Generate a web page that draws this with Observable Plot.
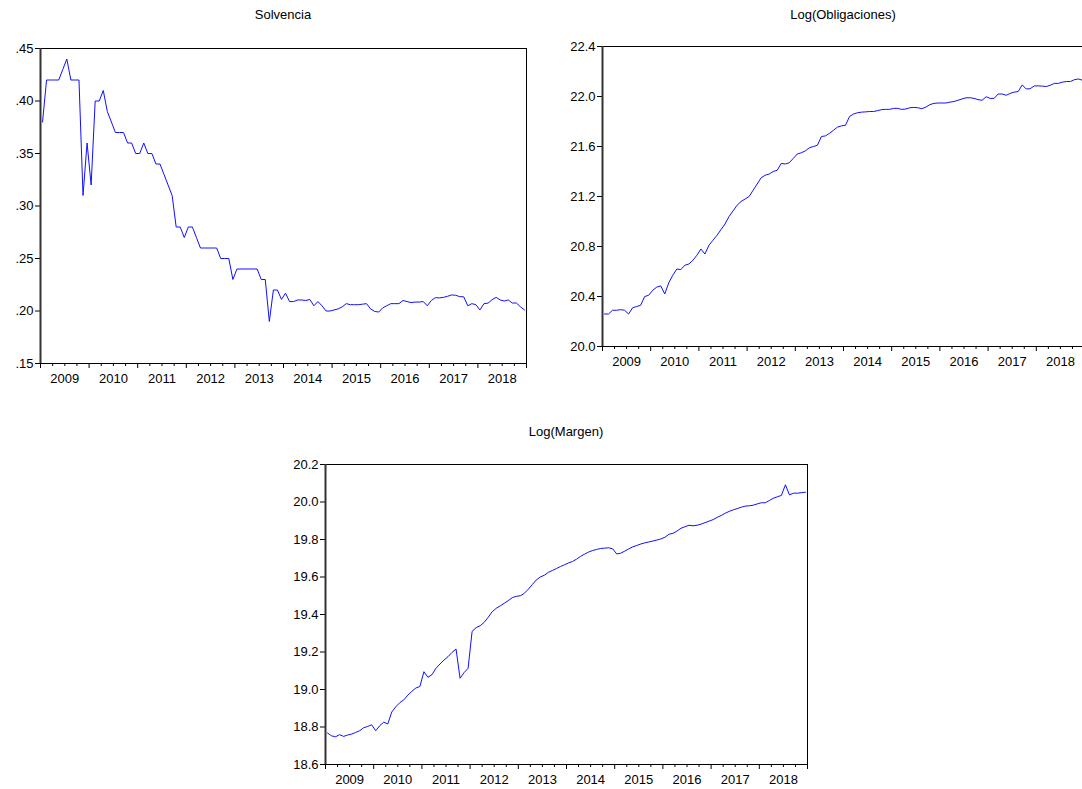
<!DOCTYPE html>
<html>
<head>
<meta charset="utf-8">
<script src="https://cdn.jsdelivr.net/npm/d3@7"></script>
<script src="https://cdn.jsdelivr.net/npm/@observablehq/plot@0.6"></script>
<style>
  html, body { margin: 0; padding: 0; background: #fff; overflow: hidden; }
  #page { position: relative; width: 1082px; height: 789px; overflow: hidden;
          font-family: Arial, "Liberation Sans", sans-serif; }
  .panel { position: absolute; }
  .panel svg { max-width: none !important; }
  .title { position: absolute; font-size: 13px; color: #000; text-align: center; white-space: nowrap; }
</style>
</head>
<body>
<div id="page"></div>
<script>
// Monthly observations, January 2009 to December 2018
const firstYear = 2009;
const yearLabels = ["2009", "2010", "2011", "2012", "2013", "2014", "2015", "2016", "2017", "2018"];

const solvencia = [
  .38, .42, .42, .42, .42, .43, .44, .42, .42, .42,
  .31, .36, .32, .40, .40, .41, .39, .38, .37, .37,
  .37, .36, .36, .35, .35, .36, .35, .35, .34, .34,
  .33, .32, .31, .28, .28, .27, .28, .28, .27, .26,
  .26, .26, .26, .26, .25, .25, .25, .23, .24, .24,
  .24, .24, .24, .24, .23, .23, .19, .22, .22, .211,
  .217, .209, .209, .2105, .2105, .21, .211, .205, .209, .205,
  .200, .200, .201, .202, .204, .207, .206, .206, .206, .2065,
  .207, .202, .1996, .199, .203, .205, .207, .207, .207, .21,
  .209, .208, .2085, .2085, .209, .205, .21, .2127, .2125, .213,
  .214, .2153, .215, .2137, .2135, .205, .207, .206, .201, .207,
  .2075, .2108, .213, .2105, .2095, .2105, .2076, .2076, .204, .201
];

const logObligaciones = [
  20.26, 20.26, 20.29, 20.29, 20.295, 20.29, 20.26, 20.31, 20.32, 20.33,
  20.40, 20.41, 20.45, 20.475, 20.485, 20.42, 20.51, 20.57, 20.62, 20.615,
  20.65, 20.66, 20.69, 20.73, 20.78, 20.74, 20.81, 20.85, 20.89, 20.935,
  20.98, 21.04, 21.085, 21.13, 21.16, 21.18, 21.20, 21.25, 21.30, 21.35,
  21.37, 21.38, 21.40, 21.41, 21.465, 21.46, 21.47, 21.505, 21.54, 21.55,
  21.565, 21.59, 21.60, 21.61, 21.68, 21.685, 21.705, 21.73, 21.755, 21.765,
  21.77, 21.84, 21.86, 21.87, 21.875, 21.877, 21.88, 21.88, 21.887, 21.895,
  21.897, 21.897, 21.905, 21.905, 21.897, 21.90, 21.91, 21.913, 21.91, 21.903,
  21.915, 21.935, 21.945, 21.948, 21.948, 21.948, 21.955, 21.96, 21.97, 21.98,
  21.99, 21.99, 21.985, 21.975, 21.97, 21.998, 21.985, 21.985, 22.02, 22.02,
  22.01, 22.025, 22.035, 22.04, 22.093, 22.06, 22.063, 22.085, 22.085, 22.083,
  22.08, 22.09, 22.105, 22.105, 22.115, 22.12, 22.12, 22.135, 22.14, 22.13
];

const logMargen = [
  18.768, 18.753, 18.748, 18.759, 18.75, 18.757, 18.762, 18.771, 18.78, 18.796,
  18.803, 18.812, 18.78, 18.807, 18.826, 18.816, 18.88, 18.908, 18.93, 18.945,
  18.97, 18.99, 19.008, 19.016, 19.095, 19.065, 19.079, 19.113, 19.136, 19.157,
  19.175, 19.198, 19.216, 19.06, 19.09, 19.113, 19.31, 19.33, 19.34, 19.358,
  19.385, 19.415, 19.433, 19.446, 19.46, 19.474, 19.49, 19.497, 19.50, 19.513,
  19.535, 19.56, 19.585, 19.60, 19.61, 19.625, 19.635, 19.645, 19.656, 19.665,
  19.675, 19.683, 19.695, 19.71, 19.722, 19.733, 19.741, 19.747, 19.752, 19.754,
  19.756, 19.75, 19.723, 19.727, 19.738, 19.75, 19.761, 19.768, 19.776, 19.782,
  19.787, 19.792, 19.797, 19.803, 19.812, 19.828, 19.833, 19.845, 19.86, 19.868,
  19.876, 19.873, 19.876, 19.882, 19.89, 19.898, 19.906, 19.918, 19.928, 19.94,
  19.95, 19.958, 19.965, 19.972, 19.978, 19.98, 19.983, 19.99, 19.996, 19.996,
  20.008, 20.02, 20.028, 20.035, 20.092, 20.038, 20.047, 20.047, 20.05, 20.052
];

const solvenciaTicks = [.15, .20, .25, .30, .35, .40, .45];
const obligacionesTicks = [20.0, 20.4, 20.8, 21.2, 21.6, 22.0, 22.4];
const margenTicks = [18.6, 18.8, 19.0, 19.2, 19.4, 19.6, 19.8, 20.0, 20.2];

const page = document.getElementById("page");
const yearStarts = d3.range(firstYear, firstYear + yearLabels.length + 1);
const quarterTicks = d3.range(firstYear * 4, (firstYear + yearLabels.length) * 4 + 1)
  .map(q => q / 4).filter(q => q % 1 !== 0);
const labelPositions = yearLabels.map((y, i) => firstYear + i + 0.5);

function panel({title, values, yDomain, yTicks, yFormat, left, top, width, height,
                marginLeft, marginRight, marginTop, marginBottom, titleTop}) {
  const data = values.map((v, i) => ({t: firstYear + (i + 0.5) / 12, v}));
  const chart = Plot.plot({
    width, height, marginLeft, marginRight, marginTop, marginBottom,
    style: {fontFamily: "Arial, 'Liberation Sans', sans-serif", fontSize: "13px",
            color: "#000", background: "transparent", overflow: "visible"},
    x: {domain: [firstYear, firstYear + yearLabels.length]},
    y: {domain: yDomain},
    marks: [
      Plot.axisY({ticks: yTicks, tickSize: 5, tickPadding: 2, tickFormat: yFormat, label: null}),
      Plot.axisX({ticks: quarterTicks, tickSize: 3, tickFormat: () => "", label: null}),
      Plot.axisX({ticks: yearStarts, tickSize: 5, tickFormat: () => "", label: null}),
      Plot.axisX({ticks: labelPositions, tickSize: 0, tickPadding: 10,
                  tickFormat: d => yearLabels[Math.floor(d) - firstYear], label: null}),
      Plot.frame({stroke: "#000", strokeWidth: 1}),
      Plot.ruleX([firstYear], {stroke: "#333", strokeWidth: 2}),
      Plot.lineY(data, {x: "t", y: "v", stroke: "#1010ff", strokeWidth: 1})
    ]
  });
  chart.style.maxWidth = "none";
  const box = document.createElement("div");
  box.className = "panel";
  box.style.left = left + "px";
  box.style.top = top + "px";
  box.style.width = width + "px";
  box.style.height = height + "px";
  box.appendChild(chart);
  page.appendChild(box);

  const t = document.createElement("div");
  t.className = "title";
  t.textContent = title;
  const cx = left + marginLeft + (width - marginLeft - marginRight) / 2;
  t.style.left = (cx - 150) + "px";
  t.style.width = "300px";
  t.style.top = titleTop + "px";
  page.appendChild(t);
}

const dropZero = d => d3.format(".2f")(d).replace(/^0/, "");
const oneDecimal = d3.format(".1f");

panel({title: "Solvencia", values: solvencia, yDomain: [.15, .45], yTicks: solvenciaTicks,
       yFormat: dropZero, left: 0, top: 30, width: 540, height: 370,
       marginLeft: 40, marginRight: 14, marginTop: 18, marginBottom: 37, titleTop: 7});

panel({title: "Log(Obligaciones)", values: logObligaciones, yDomain: [20.0, 22.4], yTicks: obligacionesTicks,
       yFormat: oneDecimal, left: 550, top: 30, width: 550, height: 370,
       marginLeft: 52, marginRight: 16, marginTop: 16, marginBottom: 54, titleTop: 7});

panel({title: "Log(Margen)", values: logMargen, yDomain: [18.6, 20.2], yTicks: margenTicks,
       yFormat: oneDecimal, left: 270, top: 420, width: 550, height: 369,
       marginLeft: 55, marginRight: 13, marginTop: 44, marginBottom: 25, titleTop: 424});
</script>
</body>
</html>
